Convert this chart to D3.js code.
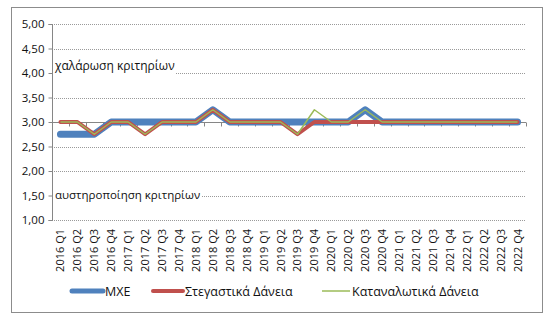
<!DOCTYPE html>
<html><head><meta charset="utf-8">
<script src="https://cdn.jsdelivr.net/npm/d3@7"></script>
<style>
body{margin:0;background:#fff;}
svg{display:block;}
text{font-family:"Open Sans","DejaVu Sans",sans-serif;fill:#111;}
</style></head>
<body><svg id="c" width="552" height="322"></svg>
<script>
const categories = ["2016 Q1","2016 Q2","2016 Q3","2016 Q4","2017 Q1","2017 Q2","2017 Q3","2017 Q4",
"2018 Q1","2018 Q2","2018 Q3","2018 Q4","2019 Q1","2019 Q2","2019 Q3","2019 Q4",
"2020 Q1","2020 Q2","2020 Q3","2020 Q4","2021 Q1","2021 Q2","2021 Q3","2021 Q4",
"2022 Q1","2022 Q2","2022 Q3","2022 Q4"];
const mxe =       [2.75,2.75,2.75,3,3,3,3,3, 3,3.25,3,3,3,3,3,3, 3,3,3.25,3,3,3,3,3, 3,3,3,3];
const housing =   [3,3,2.75,3,3,2.75,3,3, 3,3.25,3,3,3,3,2.75,3, 3,3,3,3,3,3,3,3, 3,3,3,3];
const consumer =  [3,3,2.75,3,3,2.75,3,3, 3,3.25,3,3,3,3,2.75,3.25, 3,3,3.25,3,3,3,3,3, 3,3,3,3];
const seriesNames = ["ΜΧΕ","Στεγαστικά Δάνεια","Καταναλωτικά Δάνεια"];
const yTicks = [1,1.5,2,2.5,3,3.5,4,4.5,5];
const annotTop = "χαλάρωση κριτηρίων";
const annotBottom = "αυστηροποίηση κριτηρίων";

const svg = d3.select("#c");
const L=52, R=526, T=24, B=220;
const x = d3.scaleBand().domain(categories).range([L,R]);
const y = d3.scaleLinear().domain([1,5]).range([B,T]);
const fmt = v => d3.format(".2f")(v).replace(".",",");

// outer frame
svg.append("rect").attr("x",11.5).attr("y",7.5).attr("width",531).attr("height",305)
  .attr("fill","#fff").attr("stroke","#8c8c8c").attr("stroke-width",1);

// gridlines
svg.append("g").selectAll("line").data(yTicks).join("line")
  .attr("x1",L).attr("x2",R).attr("y1",d=>Math.round(y(d))+0.5).attr("y2",d=>Math.round(y(d))+0.5)
  .attr("stroke","#9a9a9a").attr("stroke-width",1).attr("stroke-dasharray","1,1");

// y axis
const ya = svg.append("g").attr("transform",`translate(${L+0.5},0)`)
  .call(d3.axisLeft(y).tickValues(yTicks).tickFormat(fmt).tickSize(4).tickPadding(4));
ya.select(".domain").attr("stroke","#868686").attr("d",`M-4,${Math.round(y(1))+0.5}H0V${Math.round(y(5))+0.5}H-4`);
ya.selectAll(".tick line").attr("stroke","#868686");
ya.selectAll(".tick text").attr("font-size","11.5px").attr("fill","#111").attr("font-family","Open Sans, sans-serif");

// x axis line at 3.00 with ticks at category boundaries
const y3 = Math.round(y(3))+0.5;
const xa = svg.append("g");
xa.append("line").attr("x1",L).attr("x2",R).attr("y1",y3).attr("y2",y3).attr("stroke","#868686");
const bounds = categories.map(c=>x(c)).concat([R]).slice(1);
xa.selectAll("line.t").data(bounds).join("line").attr("class","t")
  .attr("x1",d=>Math.round(d)+0.5).attr("x2",d=>Math.round(d)+0.5).attr("y1",y3).attr("y2",y3+4).attr("stroke","#868686");

// category labels
svg.append("g").selectAll("text").data(categories).join("text")
  .attr("transform",d=>`translate(${x(d)+x.bandwidth()/2+4},229) rotate(-90)`)
  .attr("text-anchor","end").attr("font-size","11px").text(d=>d);

// annotations with white background
function annot(txt, xx, yy, fs){
  const g = svg.append("g");
  const t = g.append("text").attr("x",xx).attr("y",yy).attr("font-size",fs).text(txt);
  const bb = t.node().getBBox();
  g.insert("rect","text").attr("x",bb.x-1).attr("y",bb.y).attr("width",bb.width+2).attr("height",bb.height).attr("fill","#fff");
}
annot(annotTop, 55, 70, "12px");
annot(annotBottom, 55, 199, "11.5px");

// lines
const line = d3.line().x((d,i)=>x(categories[i])+x.bandwidth()/2).y(d=>y(d));
const series = [
  {vals:mxe, color:"#4F81BD", w:7},
  {vals:housing, color:"#C0504D", w:4},
  {vals:consumer, color:"#9BBB59", w:1.5}
];
series.forEach(s=>{
  svg.append("path").datum(s.vals).attr("d",line).attr("fill","none")
    .attr("stroke",s.color).attr("stroke-width",s.w).attr("stroke-linejoin","round")
    .attr("stroke-linecap",s.w>2?"round":"butt");
});

// legend
const leg = [
  {x1:72,x2:103,tx:105},
  {x1:153,x2:183,tx:185},
  {x1:322,x2:350,tx:352}
];
leg.forEach((l,i)=>{
  const s = series[i];
  svg.append("line").attr("x1",l.x1).attr("x2",l.x2).attr("y1",291).attr("y2",291)
    .attr("stroke",s.color).attr("stroke-width",s.w===7?5:(s.w===4?4:1.5)).attr("stroke-linecap",s.w>2?"round":"butt");
  svg.append("text").attr("x",l.tx).attr("y",295.5).attr("font-size","12.5px").text(seriesNames[i]);
});
</script></body></html>
